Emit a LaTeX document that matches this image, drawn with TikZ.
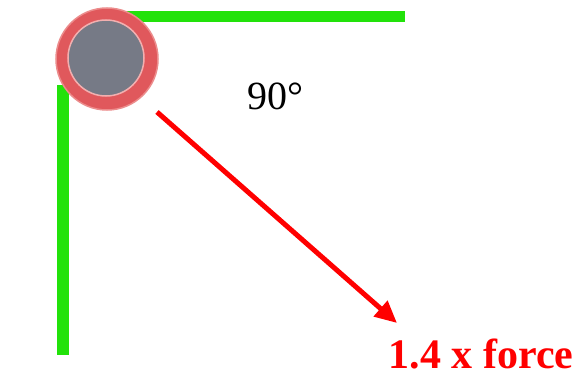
\documentclass[tikz,border=0pt]{standalone}
\usepackage{fontspec}
\setmainfont{Liberation Serif}
\usetikzlibrary{arrows.meta}
\definecolor{barGreen}{RGB}{34,226,10}
\definecolor{ringRed}{RGB}{224,88,92}
\definecolor{ringEdge}{RGB}{236,140,140}
\definecolor{pinGrey}{RGB}{118,122,134}
\definecolor{forceRed}{RGB}{255,0,0}
\tikzset{
  bar/.style={draw=barGreen, line width=11pt},
  forcearrow/.style={draw=forceRed, line width=5pt, -{Triangle[length=22pt,width=20pt]}},
  label/.style={font=\fontsize{40}{48}\selectfont, inner sep=0pt},
}
\begin{document}
\begin{tikzpicture}[x=1pt,y=-1pt]
\useasboundingbox (0,0) rectangle (581,377);
\fill[white] (0,0) rectangle (581,377);
% green bars
\draw[bar] (120,17) -- (405,17);
\draw[bar, line width=12pt] (63,85) -- (63,355);
% pin
\node[circle, minimum size=102pt, inner sep=0pt, fill=ringRed, draw=ringEdge, line width=1.5pt] (pin) at (107,59) {};
\node[circle, minimum size=76pt, inner sep=0pt, fill=pinGrey, draw=ringEdge!70!white, line width=1.5pt] (core) at (106,58) {};
% arrow
\coordinate (start) at (157,112);
\coordinate (tip) at (397,323);
\draw[forcearrow] (start) -- (tip);
% labels
\node[label, anchor=base] (angle) at (275,110) {90°};
\node[label, anchor=base, text=forceRed, font=\fontsize{42}{50}\selectfont\bfseries] (force) at (481,368) {1.4 x force};
\end{tikzpicture}
\end{document}
